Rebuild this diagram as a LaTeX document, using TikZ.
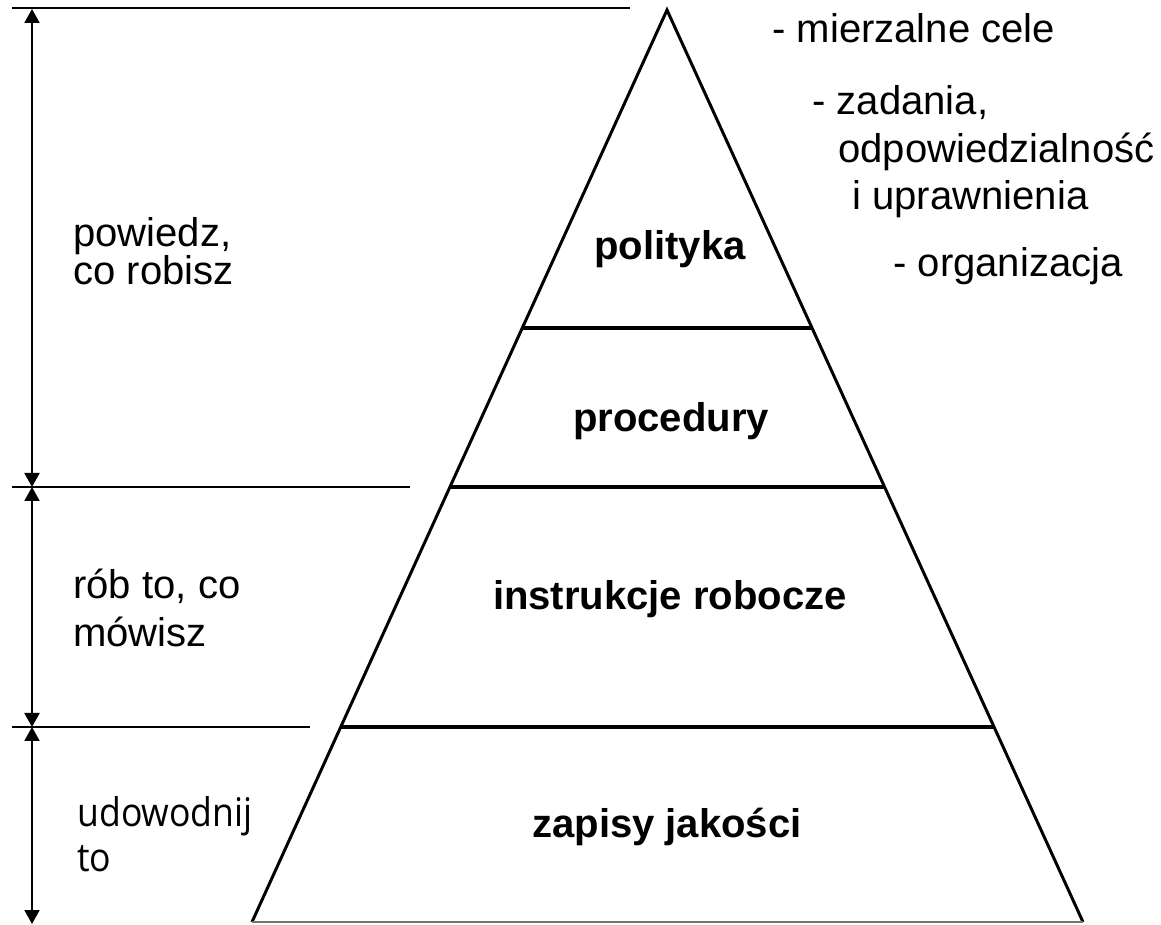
\documentclass[tikz,border=0pt]{standalone}
\usepackage{fontspec}
\setmainfont{Liberation Sans}
\newfontfamily\prooffont[FakeStretch=0.9]{Open Sans}
\usepackage{tikz}
\usetikzlibrary{positioning,calc,arrows.meta}

\begin{document}
\begin{tikzpicture}[
  x=0.02cm, y=-0.02cm,
  side/.style={line width=1.7pt, black},
  divline/.style={line width=2pt, black},
  baseline/.style={line width=0.9pt, black!55},
  refline/.style={line width=1.1pt, black},
  dimarr/.style={{Triangle[length=0.28cm,width=0.3cm]}-{Triangle[length=0.28cm,width=0.3cm]},
                 line width=1.1pt, black},
  txt/.style={font=\fontsize{22.8}{26}\selectfont, inner sep=0pt, anchor=base west},
  prooftxt/.style={font=\prooffont\fontsize{22.5}{26}\selectfont, inner sep=0pt, anchor=base west},
  lvl/.style={font=\fontsize{22.8}{26}\selectfont\bfseries, inner sep=0pt, anchor=base},
]
\useasboundingbox (0,0) rectangle (1161,925);
%--- pyramid --------------------------------------------------------------
\coordinate (apex) at (667,10);
\coordinate (bl)   at (252,922);
\coordinate (br)   at (1083,922);
\draw[side] (bl) -- (apex) -- (br);
\draw[baseline] (bl) -- (br);
\draw[divline] ($(apex)!0.3487!(bl)$) -- ($(apex)!0.3487!(br)$);
\draw[divline] ($(apex)!0.5230!(bl)$) -- ($(apex)!0.5230!(br)$);
\draw[divline] ($(apex)!0.7862!(bl)$) -- ($(apex)!0.7862!(br)$);
\node[lvl] (polityka)   at (670,260) {polityka};
\node[lvl] (procedury)  at (671,432) {procedury};
\node[lvl] (instrukcje) at (670,610) {instrukcje robocze};
\node[lvl] (zapisy)     at (667,838) {zapisy jakości};
%--- reference lines and dimension arrows ---------------------------------
\coordinate (r0a) at (12,8);   \coordinate (r0b) at (630,8);
\coordinate (r1a) at (12,487); \coordinate (r1b) at (410,487);
\coordinate (r2a) at (12,727); \coordinate (r2b) at (310,727);
\draw[refline] (r0a) -- (r0b);
\draw[refline] (r1a) -- (r1b);
\draw[refline] (r2a) -- (r2b);
\coordinate (d0) at (32,9);
\coordinate (d1) at (32,487);
\coordinate (d2) at (32,727);
\coordinate (d3) at (32,924);
\draw[dimarr] (d0) -- (d1);
\draw[dimarr] (d1) -- (d2);
\draw[dimarr] (d2) -- (d3);
%--- left labels ----------------------------------------------------------
\node[txt] (say1) at (73,247) {powiedz,};
\node[txt] (say2) at (73,285) {co robisz};
\node[txt] (do1)  at (73,599) {rób to, co};
\node[txt] (do2)  at (73,647) {mówisz};
\node[prooftxt] (prove1) at (77,827) {udowodnij};
\node[prooftxt] (prove2) at (77,872) {to};
%--- right notes ----------------------------------------------------------
\node[txt] (goals)  at (772,43)  {- mierzalne cele};
\node[txt] (tasks1) at (812,115) {- zadania,};
\node[txt] (tasks2) at (838,163) {odpowiedzialność};
\node[txt] (tasks3) at (852,210) {i uprawnienia};
\node[txt] (org)    at (893,277) {- organizacja};
\end{tikzpicture}
\end{document}
